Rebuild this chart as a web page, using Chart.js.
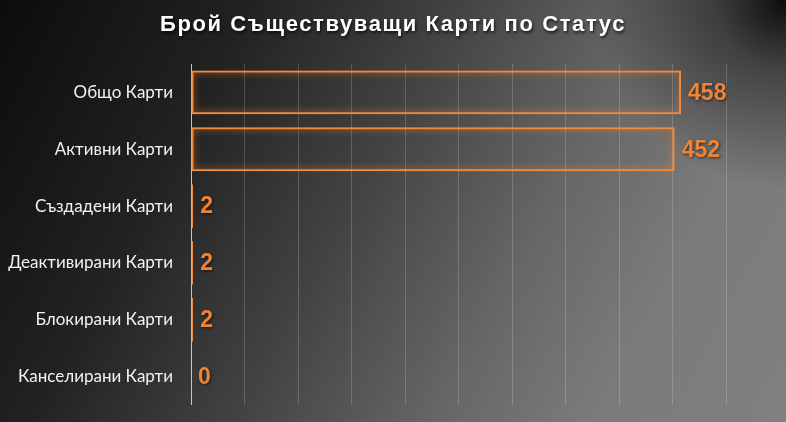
<!DOCTYPE html>
<html>
<head>
<meta charset="utf-8">
<script src="https://cdn.jsdelivr.net/npm/chart.js@4/dist/chart.umd.min.js"></script>
<style>
html,body{margin:0;padding:0;}
#wrap{position:relative;width:786px;height:422px;overflow:hidden;
background:
 radial-gradient(circle at 100% 0%, rgba(0,0,0,0.9) 0px, rgba(0,0,0,0.45) 70px, rgba(0,0,0,0) 190px),
 linear-gradient(118deg, #0c0c0c 0%, #222 25%, #424242 45%, #666 65%, #7a7a7a 80%, #808080 100%);}
</style>
</head>
<body>
<div id="wrap"><canvas id="c"></canvas></div>
<script>
const chartTitle = "Брой Съществуващи Карти по Статус";
const categories = ["Общо Карти","Активни Карти","Създадени Карти","Деактивирани Карти","Блокирани Карти","Канселирани Карти"];
const values = [458, 452, 2, 2, 2, 0];
const axisMin = 0, axisMax = 500, axisStep = 50;

const titlePlugin = {
  id:'spacedTitle',
  afterDraw(chart){
    const ctx = chart.ctx;
    ctx.save();
    ctx.font = 'bold 22px "Liberation Sans", Arial, sans-serif';
    ctx.letterSpacing = '1.6px';
    ctx.textAlign = 'left';
    ctx.textBaseline = 'middle';
    const w = ctx.measureText(chartTitle).width;
    ctx.shadowColor = 'rgba(0,0,0,0.7)';
    ctx.shadowBlur = 3;
    ctx.shadowOffsetX = 1;
    ctx.shadowOffsetY = 2;
    ctx.fillStyle = '#ffffff';
    ctx.fillText(chartTitle, 393 - w/2, 25);
    ctx.restore();
  }
};

const glowPlugin = {
  id:'glow',
  beforeDatasetsDraw(chart){
    const ctx = chart.ctx;
    ctx.save();
    ctx.shadowColor = 'rgba(255,130,40,0.9)';
    ctx.shadowBlur = 7;
  },
  afterDatasetsDraw(chart){
    chart.ctx.restore();
    const ctx = chart.ctx;
    const meta = chart.getDatasetMeta(0);
    ctx.save();
    ctx.font = 'bold 23px "Liberation Sans", Arial, sans-serif';
    ctx.textAlign = 'left';
    ctx.textBaseline = 'middle';
    ctx.shadowColor = 'rgba(0,0,0,0.6)';
    ctx.shadowBlur = 3;
    ctx.shadowOffsetX = 1;
    ctx.shadowOffsetY = 1;
    ctx.fillStyle = '#EE8437';
    meta.data.forEach((bar, i) => {
      ctx.fillText(String(values[i]), bar.x + 7, bar.y + 1);
    });
    ctx.restore();
  }
};

new Chart(document.getElementById('c'), {
  type:'bar',
  data:{
    labels:categories,
    datasets:[{
      data:values,
      backgroundColor:'rgba(0,0,0,0)',
      borderColor:'#F08B3E',
      borderWidth:2,
      borderSkipped:false,
      categoryPercentage:1,
      barPercentage:0.77
    }]
  },
  options:{
    indexAxis:'y',
    responsive:true,
    maintainAspectRatio:false,
    animation:false,
    layout:{padding:{left:0,right:60,top:64,bottom:17}},
    plugins:{
      legend:{display:false},
      tooltip:{enabled:false},
      title:{display:false}
    },
    scales:{
      x:{
        min:axisMin,max:axisMax,
        ticks:{display:false,stepSize:axisStep},
        border:{display:false},
        grid:{
          drawTicks:false,
          color:(c)=> c.index===0 ? 'rgba(225,225,225,0.85)' : 'rgba(255,255,255,0.18)',
          lineWidth:1
        },
        afterFit(scale){ scale.height = 0; scale.paddingLeft = 0; scale.paddingRight = 0; }
      },
      y:{
        border:{display:false},
        grid:{display:false,drawTicks:false},
        ticks:{
          color:'#f2f2f2',
          padding:18,
          font:{family:'Lato, "Open Sans", sans-serif',size:17}
        },
        afterFit(scale){ scale.width = 191; scale.paddingTop = 0; scale.paddingBottom = 0; }
      }
    }
  },
  plugins:[glowPlugin, titlePlugin]
});
</script>
</body>
</html>
